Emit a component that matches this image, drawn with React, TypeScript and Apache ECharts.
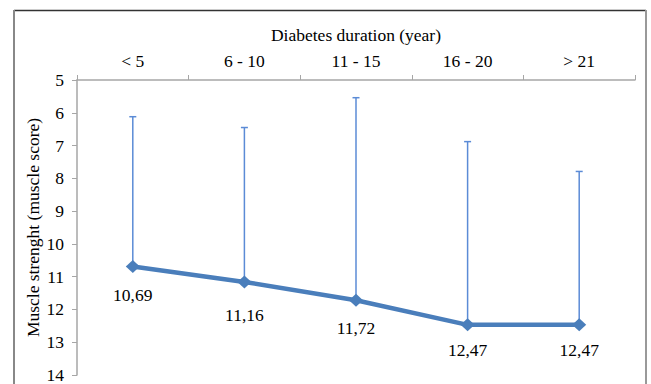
import React, { useEffect, useRef } from "react";
import * as echarts from "echarts";

const categories = ["< 5", "6 - 10", "11 - 15", "16 - 20", "> 21"];
const meanScores = [10.69, 11.16, 11.72, 12.47, 12.47];
const errorTops = [6.12, 6.45, 5.54, 6.88, 7.79];
const labelTexts = ["10,69", "11,16", "11,72", "12,47", "12,47"];
const labelDistances = [13, 18, 12, 10, 10];
const yTicks = { min: 5, max: 14, interval: 1 };

const FONT = "Liberation Serif";

export default function App() {
  const ref = useRef<HTMLDivElement>(null);
  useEffect(() => {
    if (!ref.current) return;
    const chart = echarts.init(ref.current, undefined, { renderer: "svg" });
    const errData = categories.map((_, i) => [i, meanScores[i], errorTops[i]]);
    chart.setOption({
      animation: false,
      backgroundColor: "#ffffff",
      grid: { left: 77, right: 16, top: 80, bottom: 8, containLabel: false },
      graphic: [
        {
          type: "line",
          shape: { x1: 14, y1: 10.5, x2: 646, y2: 10.5 },
          style: { stroke: "#333333", lineWidth: 1.5 },
          z: 100,
        },
        {
          type: "line",
          shape: { x1: 14, y1: 10, x2: 14, y2: 384 },
          style: { stroke: "#888888", lineWidth: 2 },
          z: 100,
        },
        {
          type: "line",
          shape: { x1: 646, y1: 10, x2: 646, y2: 384 },
          style: { stroke: "#999999", lineWidth: 2 },
          z: 100,
        },
      ],
      xAxis: {
        type: "category",
        data: categories,
        position: "top",
        boundaryGap: true,
        name: "Diabetes duration (year)",
        nameLocation: "middle",
        nameGap: 36,
        nameTextStyle: { fontFamily: FONT, fontSize: 17.5, color: "#000" },
        axisLine: { show: true, lineStyle: { color: "#a6a6a6", width: 1.5 } },
        axisTick: { show: true, inside: false, length: 5, lineStyle: { color: "#a6a6a6" } },
        axisLabel: { fontFamily: FONT, fontSize: 17.5, color: "#000", margin: 10 },
        splitLine: { show: false },
      },
      yAxis: {
        type: "value",
        inverse: true,
        min: yTicks.min,
        max: yTicks.max,
        interval: yTicks.interval,
        name: "Muscle strenght (muscle score)",
        nameLocation: "middle",
        nameGap: 35,
        nameMoveOverlap: false,
        nameRotate: 90,
        nameTextStyle: { fontFamily: FONT, fontSize: 17.5, color: "#000" },
        axisLine: { show: true, lineStyle: { color: "#a6a6a6", width: 1.5 } },
        axisTick: { show: true, inside: false, length: 5, lineStyle: { color: "#a6a6a6" } },
        axisLabel: { fontFamily: FONT, fontSize: 17.5, color: "#000", margin: 13 },
        splitLine: { show: false },
      },
      series: [
        {
          type: "custom",
          z: 1,
          data: errData,
          renderItem: (params: any, api: any) => {
            const x = api.value(0);
            const base = api.coord([x, api.value(1)]);
            const top = api.coord([x, api.value(2)]);
            const half = 3.5;
            const style = { stroke: "#5b8bd6", lineWidth: 1.5, fill: "none" };
            return {
              type: "group",
              children: [
                { type: "line", shape: { x1: base[0], y1: base[1], x2: top[0], y2: top[1] }, style },
                { type: "line", shape: { x1: top[0] - half, y1: top[1], x2: top[0] + half, y2: top[1] }, style },
              ],
            };
          },
        },
        {
          type: "line",
          z: 3,
          data: meanScores.map((v, i) => ({
            value: v,
            label: { distance: labelDistances[i] },
          })),
          symbol: "diamond",
          symbolSize: [14, 13],
          itemStyle: { color: "#4a7ebb" },
          lineStyle: { color: "#4a7ebb", width: 4.5 },
          label: {
            show: true,
            position: "bottom",
            fontFamily: FONT,
            fontSize: 17.5,
            color: "#000",
            formatter: (p: any) => labelTexts[p.dataIndex],
          },
        },
      ],
    });
    return () => chart.dispose();
  }, []);
  return (
    <div
      ref={ref}
      style={{ position: "fixed", left: 0, top: 0, width: 651, height: 384, background: "#fff" }}
    />
  );
}
